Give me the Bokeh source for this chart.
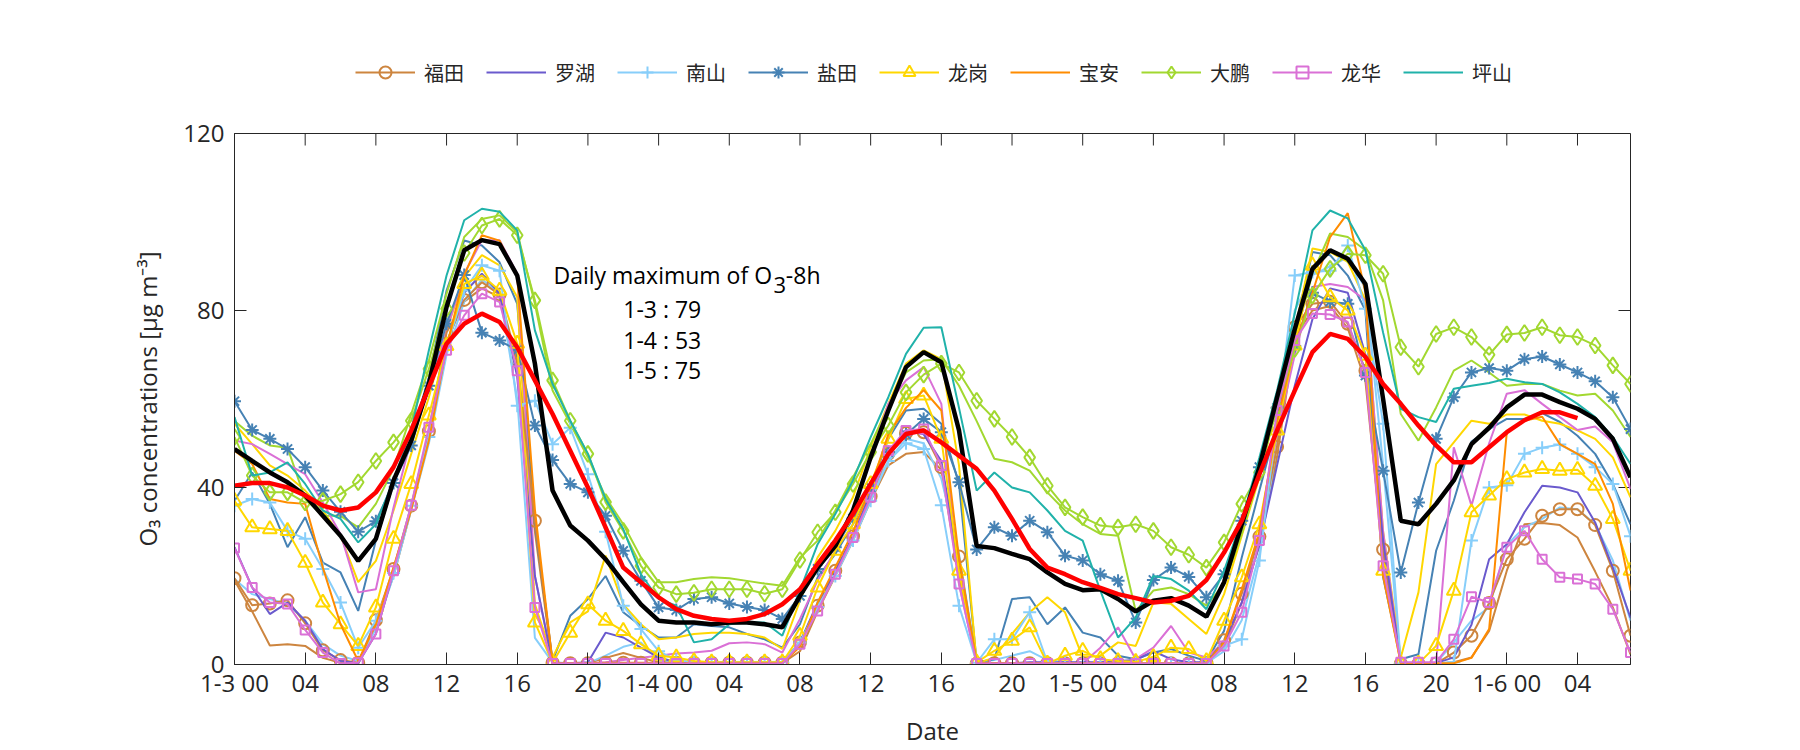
from bokeh.plotting import figure
from bokeh.layouts import column
from bokeh.models import Range1d, FixedTicker, Legend, LegendItem, Label
from bokeh.embed import file_html
from bokeh.resources import INLINE

# ---------------- data ----------------
hours = list(range(80))  # 1-3 00 ... 1-6 07
xtick_pos = list(range(0, 80, 4))
xtick_labels = [("1-%d 00" % (3 + t // 24)) if t % 24 == 0 else "%02d" % (t % 24) for t in xtick_pos]
ytick_pos = [0, 40, 80, 120]

stations = ["福田", "罗湖", "南山", "盐田", "龙岗", "宝安", "大鹏", "龙华", "坪山"]

futian = [19.5, 13.4, 13.8, 14.5, 9.3, 3.2, 1.0, 0.4,
          10, 21.6, 35.9, 52.7, 75, 82.4, 86.4, 83.6,
          68.7, 32.5, 0.4, 0.3, 0.3, 0.4, 0.4, 0.4,
          0.4, 0.4, 0.4, 0.4, 0.4, 0.4, 0.4, 0.4,
          5, 13.3, 21.2, 29, 38, 47.6, 52.3, 52.5,
          44.6, 24.4, 0.2, 0.3, 0.3, 0.3, 0.3, 0.3,
          0.3, 0.3, 0.3, 0.3, 0.3, 0.3, 0.3, 0.3,
          5.5, 16, 28.9, 49.2, 76.2, 81.5, 82, 77,
          66.4, 26, 0.2, 0.2, 0.2, 2.7, 6.5, 13.9,
          23.8, 28.4, 33.6, 35.1, 35.1, 31.5, 21.2, 6.5]

luohu = [26.5, 17.4, 11.4, 14, 9.9, 3.5, 0.8, 0.3,
         6.9, 21, 35.5, 51.4, 72, 84, 88.3, 83.8,
         65, 20, 0.3, 0.3, 0.5, 7.2, 6.1, 3.8,
         1.6, 0.5, 0.5, 0.5, 0.5, 0.5, 0.5, 0.5,
         5, 14, 21, 29, 39, 48, 53, 52,
         46, 22, 0.3, 0.3, 0.3, 0.5, 0.5, 0.5,
         0.5, 0.5, 0.8, 1, 3, 1.2, 0.5, 0.5,
         5, 14, 27, 45, 63, 78, 85, 84,
         70, 28, 0.3, 0.3, 0.3, 1.6, 9, 23.8,
         27.2, 34.4, 40.4, 40, 38.9, 32.1, 21.9, 10.6]

nanshan = [35.9, 37.4, 36.6, 30.2, 28.4, 21.6, 14, 3.8,
           9.9, 20.7, 35.9, 51.4, 71.7, 84.5, 90.2, 89,
           58.5, 59.6, 49.8, 53.5, 43, 30, 13.3, 8,
           3, 1, 0.5, 0.5, 0.5, 0.5, 0.5, 0.5,
           5, 13, 20, 28, 37, 46, 50, 48.7,
           36, 13.3, 0.4, 5.7, 5.7, 11.8, 0.5, 0.3,
           0.3, 0.3, 0.3, 0.3, 0.3, 0.3, 0.3, 0.3,
           4.2, 5.7, 23.5, 55, 87.9, 88.7, 89, 94.7,
           80.4, 54.4, 0.3, 0.3, 0.3, 0.5, 28, 40,
           40.5, 47.6, 49, 49.7, 47.6, 44.6, 40.8, 29]

yantian = [59.5, 53, 51, 48.7, 44.6, 39.3, 34.5, 30,
           32.4, 41, 49.5, 63, 77, 88, 75, 73.2,
           71, 54, 46.2, 40.8, 38.9, 33.6, 25.7, 18.9,
           12.9, 12.3, 14.8, 15.2, 13.8, 13, 12.3, 10.3,
           15.5, 21.6, 26.5, 33, 40, 48, 52, 55.5,
           52.5, 41.2, 26, 31, 29.1, 32.5, 29.9, 24.6,
           23.5, 20.4, 18.9, 9.5, 19.1, 21.9, 19.8, 15.2,
           20.4, 32.5, 44.6, 58, 72, 84, 82, 81.5,
           65.3, 43.8, 20.8, 36.6, 51, 60.4, 66, 67,
           66.4, 69, 69.6, 67.8, 66, 64, 60.4, 53.2]

longgang = [37, 31, 30.6, 30.2, 23, 14, 9.1, 4.2,
            12.9, 28.4, 40.8, 56.3, 72, 86, 87.9, 84.5,
            72.5, 9.5, 0.4, 7.2, 13.6, 9.9, 7.6, 4.6,
            2, 1.6, 0.8, 0.5, 0.5, 0.5, 0.5, 0.5,
            6.5, 17.4, 25.7, 31.7, 40.8, 51, 60, 60.8,
            51, 21.2, 0.5, 3.1, 5.4, 8.4, 0.2, 2,
            3.1, 1.2, 0.8, 0.6, 1.7, 3.8, 3.5, 0.8,
            9.9, 19.7, 31.7, 52.9, 72.1, 90.2, 83, 80,
            69.8, 21.2, 0.2, 0.2, 4.2, 16.7, 34.4, 38.2,
            41.9, 43.4, 44.2, 43.8, 44, 40.4, 32.9, 21.2]

baoan = [48.3, 45.3, 37.4, 36.6, 36.3, 21.9, 9.1, 0.8,
         9, 22, 35, 50.6, 71.7, 88, 97, 95.8,
         87.6, 35, 0.3, 0.3, 0.3, 0.3, 0.3, 0.3,
         0.3, 0.3, 0.3, 0.3, 0.3, 0.3, 0.3, 0.3,
         4, 14, 22, 30, 40, 52, 58, 62,
         57.4, 24, 0.3, 0.3, 0.3, 0.3, 0.3, 0.3,
         0.3, 0.3, 0.3, 0.3, 0.3, 0.3, 0.3, 0.3,
         5, 17, 30, 55, 72, 84, 96.6, 102,
         84, 20, 0.3, 0.3, 0.3, 0.3, 1.5, 8,
         52.5, 55.1, 56, 49.8, 47.6, 45.3, 36.3, 16.7]

dapeng = [51.4, 42.7, 38.9, 38.9, 36.6, 37, 38.5, 41.2,
          46, 50.2, 55.1, 66.8, 80.4, 93, 99.2, 100.7,
          97, 82.3, 64.2, 55.1, 47.6, 36.7, 30.2, 22.3,
          17.4, 15.9, 16.2, 17, 17, 17, 16, 17,
          23.6, 29.9, 34.4, 40.8, 48, 54, 61.5, 65.5,
          68, 66, 59.6, 55.5, 51.4, 46.8, 40.4, 35.5,
          33.3, 31.4, 31, 31.7, 30.2, 26.5, 24.8, 21.9,
          27.6, 36.3, 43.4, 58, 71.3, 83.4, 89.4, 92.8,
          92.5, 88.3, 71.7, 67.3, 74.7, 76.2, 74, 70,
          74.6, 74.9, 76.2, 74.4, 74, 72.1, 67.6, 63.4]

longhua = [26.3, 17.4, 14, 13.7, 7.8, 2.7, 0.2, 0.4,
           6.9, 21.2, 36, 53.6, 71, 78.9, 83.8, 81.9,
           66.4, 12.9, 0.2, 0.2, 0.2, 0.2, 0.2, 0.2,
           0.2, 0.2, 0.2, 0.2, 0.2, 0.2, 0.2, 0.2,
           4.6, 12.1, 20.4, 28.7, 37.8, 48.3, 52.9, 53.2,
           45, 18.2, 0.2, 0.2, 0.2, 0.2, 0.2, 0.2,
           0.2, 0.2, 0.2, 0.2, 0.2, 0.2, 0.2, 0.2,
           4.2, 11.8, 28, 57.4, 73.2, 79.3, 79.1, 77.4,
           66, 22.3, 0.5, 0.5, 0.5, 5.7, 15.3, 14,
           26.5, 30.2, 23.8, 19.7, 19.3, 18.2, 12.5, 2.7]

pingshan = [55.9, 42.7, 43.4, 45.7, 40.8, 34.8, 32.9, 27.6,
            31.7, 41.6, 52.9, 71, 87.9, 100.4, 103, 102.3,
            98.1, 75.5, 63.4, 55.1, 47.6, 37.4, 30.6, 20.4,
            14.8, 13.3, 5, 5.7, 9.1, 9.5, 9.5, 6.5,
            16.7, 27.2, 34, 41.6, 51.4, 60.4, 70.2, 76.1,
            76.2, 58, 39.3, 43.4, 40, 38.9, 34.8, 30.2,
            28, 16.7, 6.1, 10.6, 20, 19.3, 16.7, 12.5,
            21.2, 32.5, 46.8, 61.9, 79.3, 98.1, 102.6, 100.8,
            93.6, 75, 57.8, 55.9, 54.8, 62.3, 63, 63.6,
            64.6, 63.8, 63.4, 61.5, 58.9, 55.9, 51.4, 45.3]

# second (unmarked) curves of the marked stations
futian_b = [19, 12, 4.3, 4.6, 4.2, 1.5, 0.4, 0.2,
            9, 20, 35, 52, 73, 82, 85, 83,
            68, 30, 0.2, 0.2, 0.3, 1.5, 2.6, 1.5,
            0.5, 0.3, 0.3, 0.3, 0.3, 0.3, 0.3, 0.3,
            3, 12, 20, 28, 37, 45, 47.6, 48,
            44, 20, 0.2, 0.2, 0.2, 0.2, 0.2, 0.2,
            0.2, 0.2, 0.2, 0.2, 0.2, 0.2, 0.2, 0.2,
            4, 14, 27, 47, 74, 80, 81, 76,
            64, 25, 0.2, 0.2, 0.2, 0.5, 1.6, 7.6,
            21.2, 31.7, 32, 31.5, 28.7, 21, 12.9, 2.3]

nanshan_b = [19.3, 15.9, 14.8, 13.7, 9.9, 4.6, 2, 0.8,
             8, 20, 35, 50, 70, 82, 87, 84,
             60, 6, 0.5, 0.3, 0.3, 2, 4, 5,
             1, 0.5, 0.3, 0.3, 0.3, 0.3, 0.3, 0.3,
             5, 13, 21, 29, 38, 46, 51, 50,
             42, 25, 0.5, 1, 2, 3, 1, 0.5,
             0.3, 0.3, 0.3, 0.3, 0.3, 0.3, 0.3, 0.3,
             3, 10, 25, 50, 80, 88, 90, 92,
             85, 45, 0.3, 0.3, 0.3, 5, 9.9, 12.9,
             27, 31, 32.9, 35.5, 35.1, 31.7, 23.5, 9.9]

yantian_b = [37, 43.4, 36.3, 26.5, 33.3, 23, 20.8, 12.1,
             28, 40.8, 51.4, 64.9, 84.5, 95.8, 94.7, 90.9,
             81.5, 31.7, 0.8, 11, 14.8, 20, 11.8, 8.7,
             6.1, 6.1, 9.1, 8.7, 8.4, 6.9, 5.7, 3.8,
             9.1, 19.7, 25, 31.7, 40, 51, 57.4, 57.8,
             54.4, 40.8, 0.5, 1.2, 14.8, 15.2, 9.1, 12.9,
             7.2, 6.1, 2, 1.2, 2.7, 3.5, 2, 0.8,
             7.6, 24.2, 39.3, 54.4, 75.5, 93.2, 92.5, 87.9,
             80, 19.7, 1.2, 2.3, 25.7, 37, 50.4, 53.2,
             55.5, 55.5, 56.8, 54.8, 51.7, 47.6, 40.8, 31.7]

longgang_b = [54.4, 49.8, 45, 42.7, 39.3, 34.8, 29.1, 18.6,
              23.4, 34.8, 47.6, 60.4, 75.5, 87.6, 92.5, 90.2,
              83, 13.6, 1.6, 9.5, 12, 24.6, 13.6, 9.1,
              5.7, 6.1, 6.9, 7.2, 7.2, 6.9, 6.1, 3.5,
              14.4, 24.2, 30.2, 37.8, 49.1, 58.9, 68, 71,
              69, 45, 0.2, 1.6, 6.9, 11.8, 15.2, 11.8,
              1.6, 2, 5, 4.2, 14, 13.7, 10.3, 6.9,
              15.9, 29.1, 42.3, 58.9, 75.5, 94, 93.2, 91,
              82.3, 30, 1.6, 16.3, 45.3, 50.2, 55.1, 54.4,
              56.5, 56.5, 55.1, 54.4, 52.9, 51, 46.8, 37.8]

dapeng_b = [55, 51.7, 49.5, 49, 37.4, 33.6, 33.6, 31,
            36.3, 44.2, 56.6, 68.7, 83.8, 96.6, 100.7, 101.5,
            97.7, 81.5, 61.9, 54.4, 46.8, 37.8, 31.7, 24.2,
            18.6, 18.6, 19.3, 19.7, 19.5, 18.9, 18.3, 17.8,
            24.2, 28, 34.8, 42.3, 49.8, 58.1, 66, 68.7,
            69, 63, 55, 46.5, 45.7, 43.8, 38.9, 34.8,
            31.7, 29.5, 29.1, 12.1, 16.7, 17.4, 15.9, 13.3,
            18.2, 29.5, 43, 58.9, 73.6, 88.3, 97.4, 96.6,
            93.6, 82.3, 56.6, 50.6, 58.1, 66.4, 68.7, 66,
            63, 63.4, 63.4, 61.9, 60.8, 61.2, 57.4, 51.4]

longhua_b = [50.6, 49.8, 47.6, 45.3, 43, 36.6, 29.5, 16.3,
             17, 35.5, 51, 61.9, 75.5, 88.3, 95.9, 95.9,
             88.3, 20, 0.3, 0.3, 0.3, 0.5, 1, 1.5,
             2, 2.5, 2.7, 3.1, 4.8, 5, 4.6, 2.7,
             10.3, 19, 25.7, 34, 46.8, 58.9, 64.2, 67.2,
             58.9, 18.2, 0.3, 0.3, 0.3, 0.3, 0.3, 0.3,
             0.3, 3.8, 8.4, 1.2, 3.8, 8.7, 2.7, 1.6,
             5, 14, 30, 52, 70, 85.3, 86, 85.3,
             82.3, 30, 0.2, 0.2, 0.2, 49.1, 35.9, 50,
             61.2, 62, 58.9, 55.9, 53, 53.8, 50.2, 39.7]

# city mean (black) and its 8-h running mean (red)
city_mean = [48.7, 46, 43.4, 41.2, 38.2, 33.6, 29.1, 23.4,
             28.4, 41.6, 50.6, 63.4, 80.8, 93.6, 95.9, 95,
             87.9, 68, 39.3, 31.4, 28, 23.8, 18.6, 13.6,
             9.9, 9.5, 9.5, 9.1, 9.5, 9.5, 9.1, 8.4,
             15.5, 21.9, 26.8, 34.8, 46.8, 57.4, 67.2, 70.6,
             68.3, 52.9, 26.8, 26.3, 25, 23.8, 20.8, 18.2,
             16.8, 17, 14.8, 12, 14.4, 15, 13.3, 10.8,
             18.6, 31.7, 44.6, 60.4, 75.8, 89.4, 93.6, 91.7,
             86, 60, 32.5, 31.7, 36.3, 41.6, 49.8, 53.5,
             58.1, 61, 61, 59.3, 57.8, 55.5, 51, 42.3]

o3_8h = [40.4, 41, 41, 40, 38.2, 35.9, 34.8, 35.5,
         38.9, 44.6, 52.9, 62.7, 72.5, 77, 79.3, 77.4,
         71.7, 64.2, 56.6, 48.3, 40, 31, 21.9, 18.6,
         15.2, 12.5, 11, 10.3, 9.9, 10.3, 11.4, 13.6,
         17, 22.7, 28, 34, 40.8, 47.6, 52.1, 52.9,
         50.2, 47.2, 44.2, 39.3, 32.9, 26.1, 21.9, 20.4,
         18.6, 17.3, 15.9, 15, 14, 14.4, 15.5, 19.1,
         25.3, 32.5, 43, 52.9, 61.9, 70.6, 74.7, 73.6,
         69.5, 63.4, 58.9, 54, 49.5, 45.7, 45.7, 49.1,
         52.5, 55.2, 57, 57, 55.7]

daily_max_labels = ["1-3 : 79", "1-4 : 53", "1-5 : 75"]

# ---------------- style ----------------
FONT = "Open Sans"
CJK = "Noto Sans CJK SC"
AXC = "#262626"
colors = {"福田": "#CD853F", "罗湖": "#6A5ACD", "南山": "#87CEFA", "盐田": "#4682B4",
          "龙岗": "#FFD700", "宝安": "#FF8C00", "大鹏": "#A2D830", "龙华": "#DA70D6",
          "坪山": "#20B2AA"}
markers = {"福田": ("circle", 12), "南山": ("cross", 13), "盐田": ("asterisk", 13),
           "龙岗": ("triangle", 14), "大鹏": ("diamond", 16), "龙华": ("square", 9)}
main_series = {"福田": futian, "罗湖": luohu, "南山": nanshan, "盐田": yantian,
               "龙岗": longgang, "宝安": baoan, "大鹏": dapeng, "龙华": longhua,
               "坪山": pingshan}
second_series = {"福田": futian_b, "南山": nanshan_b, "盐田": yantian_b,
                 "龙岗": longgang_b, "大鹏": dapeng_b, "龙华": longhua_b}

W = 1784
LEG_H = 100          # height of the strip that carries the legend
FRAME_L, FRAME_T = 234, 133
FRAME_W, FRAME_H = 1396.0, 531.0
MAIN_H = 649
X0, X1, Y0, Y1 = 0, 79, 0, 120
TICK = 12  # tick length in px

# ---------- legend strip (its frame is aligned with the main plot's frame) ----------
lf = figure(width=W, height=LEG_H, output_backend="svg", toolbar_location=None,
            x_axis_type=None, y_axis_type=None,
            x_range=Range1d(-2, -1), y_range=Range1d(-2, -1),   # keeps the data itself out of view
            min_border=0, min_border_left=0, min_border_right=0, min_border_top=0,
            min_border_bottom=0)
lf.outline_line_color = None
lf.xgrid.visible = False
lf.ygrid.visible = False
leg_items = []
for name in stations:
    vals = main_series[name]
    rs = [lf.line(hours, vals, line_color=colors[name], line_width=2)]
    if name in markers:
        mk, sz = markers[name]
        rs.append(lf.scatter(hours, vals, marker=mk, size=sz, line_color=colors[name],
                             line_width=2, fill_alpha=0))
    leg_items.append(LegendItem(label=name, renderers=rs, index=0))
legend = Legend(items=leg_items, orientation="horizontal",
                location=(355 - FRAME_L, LEG_H - 72 - 15),
                border_line_color=None, background_fill_alpha=0,
                label_text_font=CJK, label_text_font_size="20px",
                label_text_color=AXC,
                glyph_width=60, glyph_height=30, spacing=22, label_standoff=9,
                padding=0, margin=0)
lf.add_layout(legend)

# ---------- main plot ----------
p = figure(width=W, height=MAIN_H, output_backend="svg", toolbar_location=None,
           x_range=Range1d(X0, X1), y_range=Range1d(Y0, Y1),
           min_border_left=FRAME_L, min_border_right=int(W - FRAME_L - FRAME_W),
           min_border_top=FRAME_T - LEG_H,
           min_border_bottom=int(MAIN_H - (FRAME_T - LEG_H) - FRAME_H))
p.background_fill_color = "white"
p.border_fill_color = "white"
p.outline_line_color = AXC
p.outline_line_width = 1
p.xgrid.visible = False
p.ygrid.visible = False

for ax, ticks in ((p.xaxis[0], xtick_pos), (p.yaxis[0], ytick_pos)):
    ax.ticker = FixedTicker(ticks=ticks)
    ax.major_tick_in = TICK
    ax.major_tick_out = 0
    ax.minor_tick_in = 0
    ax.minor_tick_out = 0
    ax.axis_line_color = AXC
    ax.major_tick_line_color = AXC
    ax.major_label_text_font = FONT
    ax.major_label_text_font_size = "24px"
    ax.major_label_text_color = AXC
    ax.axis_label_text_font = FONT
    ax.axis_label_text_font_size = "24px"
    ax.axis_label_text_font_style = "normal"
    ax.axis_label_text_color = AXC

p.xaxis[0].major_label_overrides = {t: l for t, l in zip(xtick_pos, xtick_labels)}
p.xaxis[0].major_label_standoff = 1
p.xaxis[0].axis_label = "Date"
p.xaxis[0].axis_label_standoff = 12
p.yaxis[0].major_label_standoff = 10
p.yaxis[0].axis_label = "O₃ concentrations [μg m⁻³]"
p.yaxis[0].axis_label_standoff = 16

# mirrored (inward) ticks on the top and right edges of the box
dy = TICK * (Y1 - Y0) / FRAME_H
dx = TICK * (X1 - X0) / FRAME_W
p.segment(x0=xtick_pos, y0=[Y1] * len(xtick_pos), x1=xtick_pos, y1=[Y1 - dy] * len(xtick_pos),
          line_color=AXC, line_width=1)
p.segment(x0=[X1] * len(ytick_pos), y0=ytick_pos, x1=[X1 - dx] * len(ytick_pos), y1=ytick_pos,
          line_color=AXC, line_width=1)

# second curves (unmarked)
for name, vals in second_series.items():
    p.line(hours, vals, line_color=colors[name], line_width=2)

for name in stations:
    vals = main_series[name]
    p.line(hours, vals, line_color=colors[name], line_width=2)
    if name in markers:
        mk, sz = markers[name]
        p.scatter(hours, vals, marker=mk, size=sz, line_color=colors[name],
                  line_width=2, fill_alpha=0)

p.line(hours, city_mean, line_color="black", line_width=4.5)
p.line(hours[:len(o3_8h)], o3_8h, line_color="#FF0000", line_width=4.5)

# annotation text
ann_kw = dict(text_font=FONT, text_color="black", text_baseline="alphabetic")
p.add_layout(Label(x=18.05, y=88.0, text="Daily maximum of O", text_font_size="23px", **ann_kw))
p.add_layout(Label(x=30.5, y=85.8, text="3", text_font_size="22px", **ann_kw))
p.add_layout(Label(x=31.2, y=88.0, text="-8h", text_font_size="23px", **ann_kw))
for lab, yy in zip(daily_max_labels, [80.3, 73.3, 66.5]):
    p.add_layout(Label(x=22.0, y=yy, text=lab, text_font_size="23px", **ann_kw))

open("out.html", "w").write(file_html(column(lf, p, spacing=0), INLINE))
